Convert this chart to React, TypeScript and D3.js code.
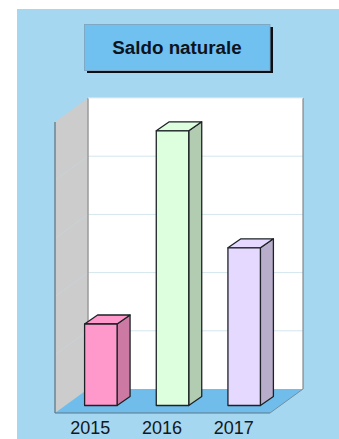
import React from "react";
import * as d3 from "d3";

const title = "Saldo naturale";
const years = ["2015", "2016", "2017"];
const saldo = [1.4, 4.72, 2.71];
const gridTicks = [1, 2, 3, 4];
const faceColors = ["#ff99cc", "#ddffdd", "#e6d9ff"];
const sideColors = ["#cc7aa3", "#b1ccb1", "#b8aecc"];
const topColors = ["#ff99cc", "#ddffdd", "#e6d9ff"];

const W = 339;
const H = 439;

// 3D box: front plane of the plot and the offset of the back wall.
const plot = { left: 55, right: 270, bottom: 413, top: 122, dx: 33, dy: -24 };
// Bars stand in the middle of the floor, with a shallower depth than the room.
const bar = { shiftX: 10, shiftY: -7.5, dx: 13, dy: -9 };

const x = d3
  .scaleBand<string>()
  .domain(years)
  .range([plot.left, plot.right])
  .paddingInner(0.547)
  .paddingOuter(0.2735);

const y = d3.scaleLinear().domain([0, 5]).range([plot.bottom, plot.top]);

const pts = (p: [number, number][]) => p.map((c) => c.join(",")).join(" ");

export default function App() {
  const wallL = plot.left + plot.dx;
  const wallR = plot.right + plot.dx;
  const wallTop = plot.top + plot.dy;
  const wallBottom = plot.bottom + plot.dy;
  const font = "'Liberation Sans', Arial, sans-serif";

  return (
    <svg
      width={W}
      height={H}
      style={{ position: "absolute", left: 0, top: 0, background: "#fff" }}
    >
      <rect x={17} y={9} width={W - 17} height={H - 9} fill="#a6d7f0" />

      {/* title plate with its hard drop shadow */}
      <rect x={87} y={27} width={186} height={46} fill="#0a0f18" />
      <rect x={84.5} y={24.5} width={185.5} height={46} fill="#70c0f0" stroke="#7fa8c4" strokeWidth={1} />
      <text
        x={177}
        y={54}
        textAnchor="middle"
        fontFamily={font}
        fontWeight="bold"
        fontSize={18.8}
        fill="#0c1420"
      >
        {title}
      </text>

      {/* room: left wall, back wall, floor */}
      <polygon
        points={pts([
          [plot.left, plot.top],
          [wallL, wallTop],
          [wallL, wallBottom],
          [plot.left, plot.bottom],
        ])}
        fill="#cccccc"
      />
      <rect x={wallL} y={wallTop} width={wallR - wallL} height={wallBottom - wallTop} fill="#ffffff" />
      <polygon
        points={pts([
          [plot.left, plot.bottom],
          [plot.right, plot.bottom],
          [wallR, wallBottom],
          [wallL, wallBottom],
        ])}
        fill="#70bdeb"
      />

      {gridTicks.map((t) => (
        <g key={t} fill="none" strokeWidth={1}>
          <line x1={wallL} x2={wallR} y1={y(t) + plot.dy} y2={y(t) + plot.dy} stroke="#d3e6ee" />
          <line x1={plot.left} x2={wallL} y1={y(t)} y2={y(t) + plot.dy} stroke="#c8d3d8" />
        </g>
      ))}

      <line x1={wallL} x2={wallL} y1={wallTop} y2={wallBottom} stroke="#9a9a9a" strokeWidth={1.5} />
      <line x1={wallR} x2={wallR} y1={wallTop} y2={wallBottom} stroke="#6f7478" strokeWidth={1} />
      <line x1={wallL} x2={wallR} y1={wallTop} y2={wallTop} stroke="#e8eef2" strokeWidth={1} />
      <line x1={plot.left} x2={plot.left} y1={plot.top} y2={plot.bottom} stroke="#4f5b66" strokeWidth={1} />
      <line x1={plot.left} x2={plot.right} y1={plot.bottom} y2={plot.bottom} stroke="#5f7486" strokeWidth={1} />
      <line x1={plot.right} x2={wallR} y1={plot.bottom} y2={wallBottom} stroke="#6f7f8a" strokeWidth={0.8} />

      {/* bars as three-faced prisms */}
      {years.map((yr, i) => {
        const x0 = (x(yr) as number) + bar.shiftX;
        const x1 = x0 + x.bandwidth();
        const yBase = y(0) + bar.shiftY;
        const yTop = y(saldo[i]) + bar.shiftY;
        const stroke = { stroke: "#1d2226", strokeWidth: 1.3, strokeLinejoin: "round" as const };
        return (
          <g key={yr} {...stroke}>
            <polygon
              points={pts([
                [x1, yTop],
                [x1 + bar.dx, yTop + bar.dy],
                [x1 + bar.dx, yBase + bar.dy],
                [x1, yBase],
              ])}
              fill={sideColors[i]}
            />
            <polygon
              points={pts([
                [x0, yTop],
                [x0 + bar.dx, yTop + bar.dy],
                [x1 + bar.dx, yTop + bar.dy],
                [x1, yTop],
              ])}
              fill={topColors[i]}
            />
            <rect x={x0} y={yTop} width={x1 - x0} height={yBase - yTop} fill={faceColors[i]} />
          </g>
        );
      })}

      {years.map((yr) => (
        <text
          key={yr}
          x={(x(yr) as number) + x.bandwidth() / 2 - 0.5}
          y={434}
          textAnchor="middle"
          fontFamily={font}
          fontSize={18}
          fill="#14181c"
        >
          {yr}
        </text>
      ))}
    </svg>
  );
}
